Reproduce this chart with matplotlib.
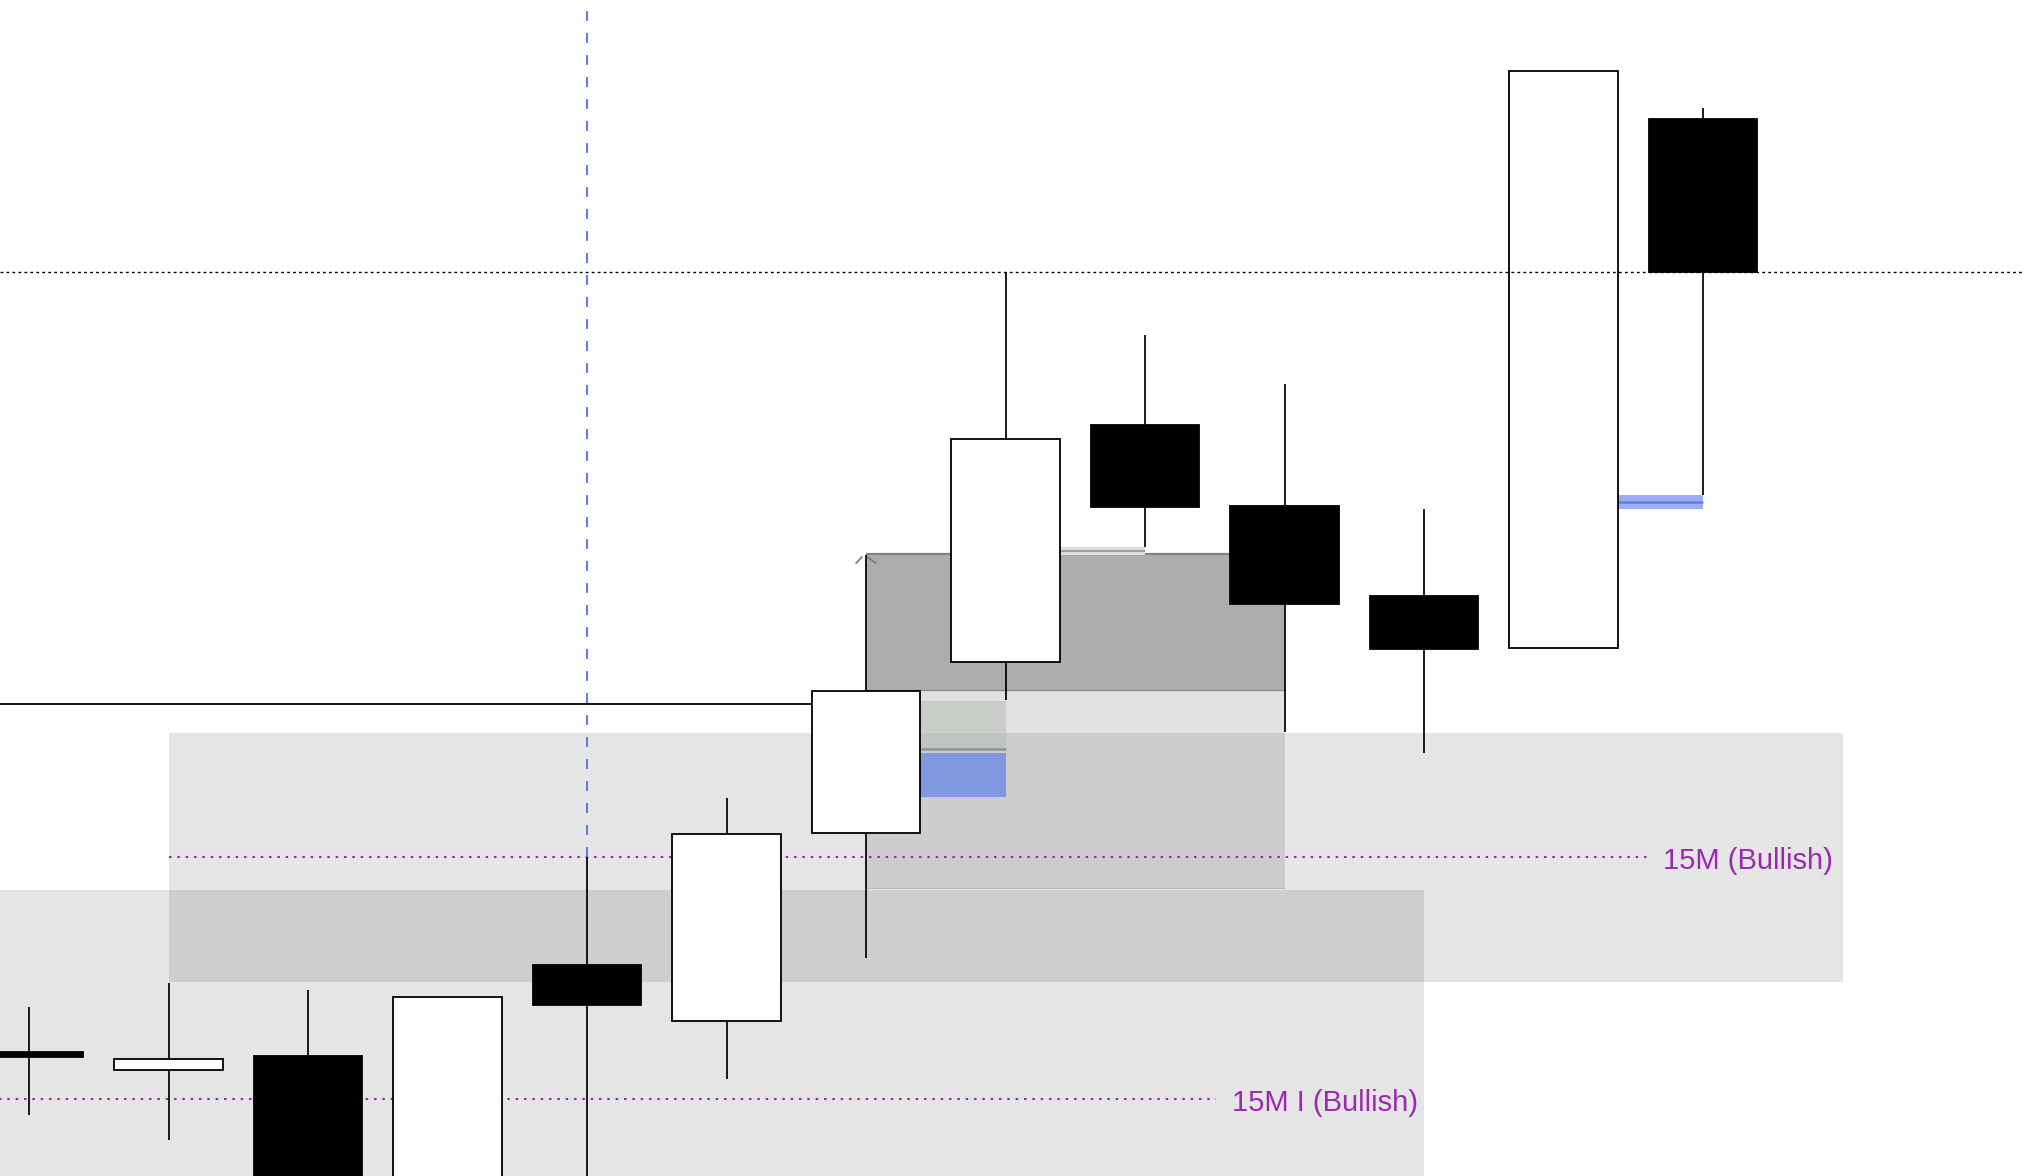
import matplotlib
matplotlib.use('Agg')
import matplotlib.pyplot as plt
from matplotlib.patches import Rectangle

#----Candle data (price units, index = bar number)----#
candle_idx = list(range(13))
opens  = [124, 106, 120, -60, 211, 155, 343, 514, 751, 670, 580, 528, 1057]
closes = [119, 117, -60, 179, 171, 342, 485, 737, 669, 572, 527, 1105, 904]
highs  = [169, 193, 186, 179, 319, 378, 621, 904, 841, 792, 667, 1105, 1068]
lows   = [61, 36, -80, -100, -60, 97, 218, 476, 629, 444, 423, 528, 681]

#----Zones / levels----#
zone_15m = (1, 13, 194, 443)          # x0, x1, y0, y1
zone_15m_i = (-1, 10, -50, 286)
fvg_dark = (6, 9, 486, 622)
fvg_light = (6, 9, 288, 486)
ob_green = (6.39, 7, 427, 475)
ob_blue = (6.39, 7, 379, 423)
level_15m = 319
level_15m_i = 77
level_high = 904
level_prev = 472
eq_small = 625
blue_tag = 674
vline_idx = 4

label_15m = '15M (Bullish)'
label_15m_i = '15M I (Bullish)'

px0, px_step = 29, 139.5
body_w = 108.5 / px_step

fig = plt.figure(figsize=(20.24, 11.76), dpi=100)
ax = fig.add_axes([0, 0, 1, 1])
ax.set_xlim(-px0 / px_step, (2024 - px0) / px_step)
ax.set_ylim(0, 1176)
ax.axis('off')

def box(z, **kw):
    x0, x1, y0, y1 = z
    ax.add_patch(Rectangle((x0, y0), x1 - x0, y1 - y0, linewidth=0, **kw))

# background zones
box(zone_15m, facecolor='#2e2e2e', alpha=0.12, zorder=1)
box(zone_15m_i, facecolor='#2e2e2e', alpha=0.12, zorder=1)
box(fvg_light, facecolor='#696a70', alpha=0.2, zorder=1.5)
box(fvg_dark, facecolor='#adadad', zorder=1.6)
ax.hlines(fvg_dark[3], fvg_dark[0], fvg_dark[1], color='#7e7f88', lw=1.6, zorder=1.7)
ax.hlines(fvg_dark[2], fvg_dark[0], fvg_dark[1], color='#8a8b94', lw=1.0, zorder=1.7)
ax.hlines(fvg_light[2], fvg_light[0], fvg_light[1], color='#babbc0', lw=0.8, zorder=1.7)

box(ob_green, facecolor='#b8c0b8', alpha=0.6, zorder=1.8)
ax.hlines(ob_green[2], ob_green[0], ob_green[1], color='#8f948f', lw=1.8, zorder=1.9)
box(ob_blue, facecolor='#8098e0', zorder=1.8)

# small equal level near candle 8
ax.add_patch(Rectangle((7 + body_w / 2, eq_small - 4), 8 - 7 - body_w / 2, 8,
                       facecolor='#dde0dd', linewidth=0, zorder=1.8))
ax.hlines(eq_small, 7 + body_w / 2, 8, color='#9aa09a', lw=1.5, zorder=1.9)

# blue tag near last candle
ax.add_patch(Rectangle((11 + body_w / 2, blue_tag - 7), 12 - 11 - body_w / 2, 14,
                       facecolor='#9aaef5', linewidth=0, zorder=1.8))
ax.hlines(blue_tag, 11 + body_w / 2, 12, color='#6680d8', lw=1.8, zorder=1.9)

# purple levels
ax.hlines(level_15m, 1, (1650 - px0) / px_step, color='#9c27b0', lw=1.5,
          linestyles=(0, (1.2, 2.8)), zorder=2)
ax.hlines(level_15m_i, -1, (1216 - px0) / px_step, color='#9c27b0', lw=1.5,
          linestyles=(0, (1.2, 2.8)), zorder=2)
ax.text((1663 - px0) / px_step, level_15m - 4, label_15m, color='#9c27b0', fontsize=21,
        family='Liberation Sans', va='center', ha='left', zorder=2)
ax.text((1232 - px0) / px_step, level_15m_i - 4, label_15m_i, color='#9c27b0', fontsize=21,
        family='Liberation Sans', va='center', ha='left', zorder=2)

# previous level line
ax.hlines(level_prev, -1, 6 - body_w / 2, color='black', lw=1.3, zorder=2)

# vertical dashed blue marker
ax.vlines(vline_idx, highs[vline_idx], 1200, color='#3d64e8', lw=1.2,
          linestyles=(0, (6.0, 7.2)), zorder=2)

# small chevron at fvg corner
ax.plot([5.93, 5.97], [613, 619], color='#787b86', lw=1.3, zorder=2)
ax.plot([6.01, 6.07], [619, 613], color='#787b86', lw=1.3, zorder=2)

# candles
for i in candle_idx:
    o, c, h, l = opens[i], closes[i], highs[i], lows[i]
    ax.vlines(i, l, h, color='black', lw=1.25, zorder=3)
    fc = 'white' if c >= o else 'black'
    ax.bar(i, abs(c - o), bottom=min(o, c), width=body_w, color=fc,
           edgecolor='black', linewidth=1.3, zorder=4)

# dotted high line on top
ax.axhline(level_high, color='black', lw=1.0, linestyle=(0, (2.0, 2.3)), zorder=5)

fig.savefig('out.png', dpi=100, facecolor='white')
